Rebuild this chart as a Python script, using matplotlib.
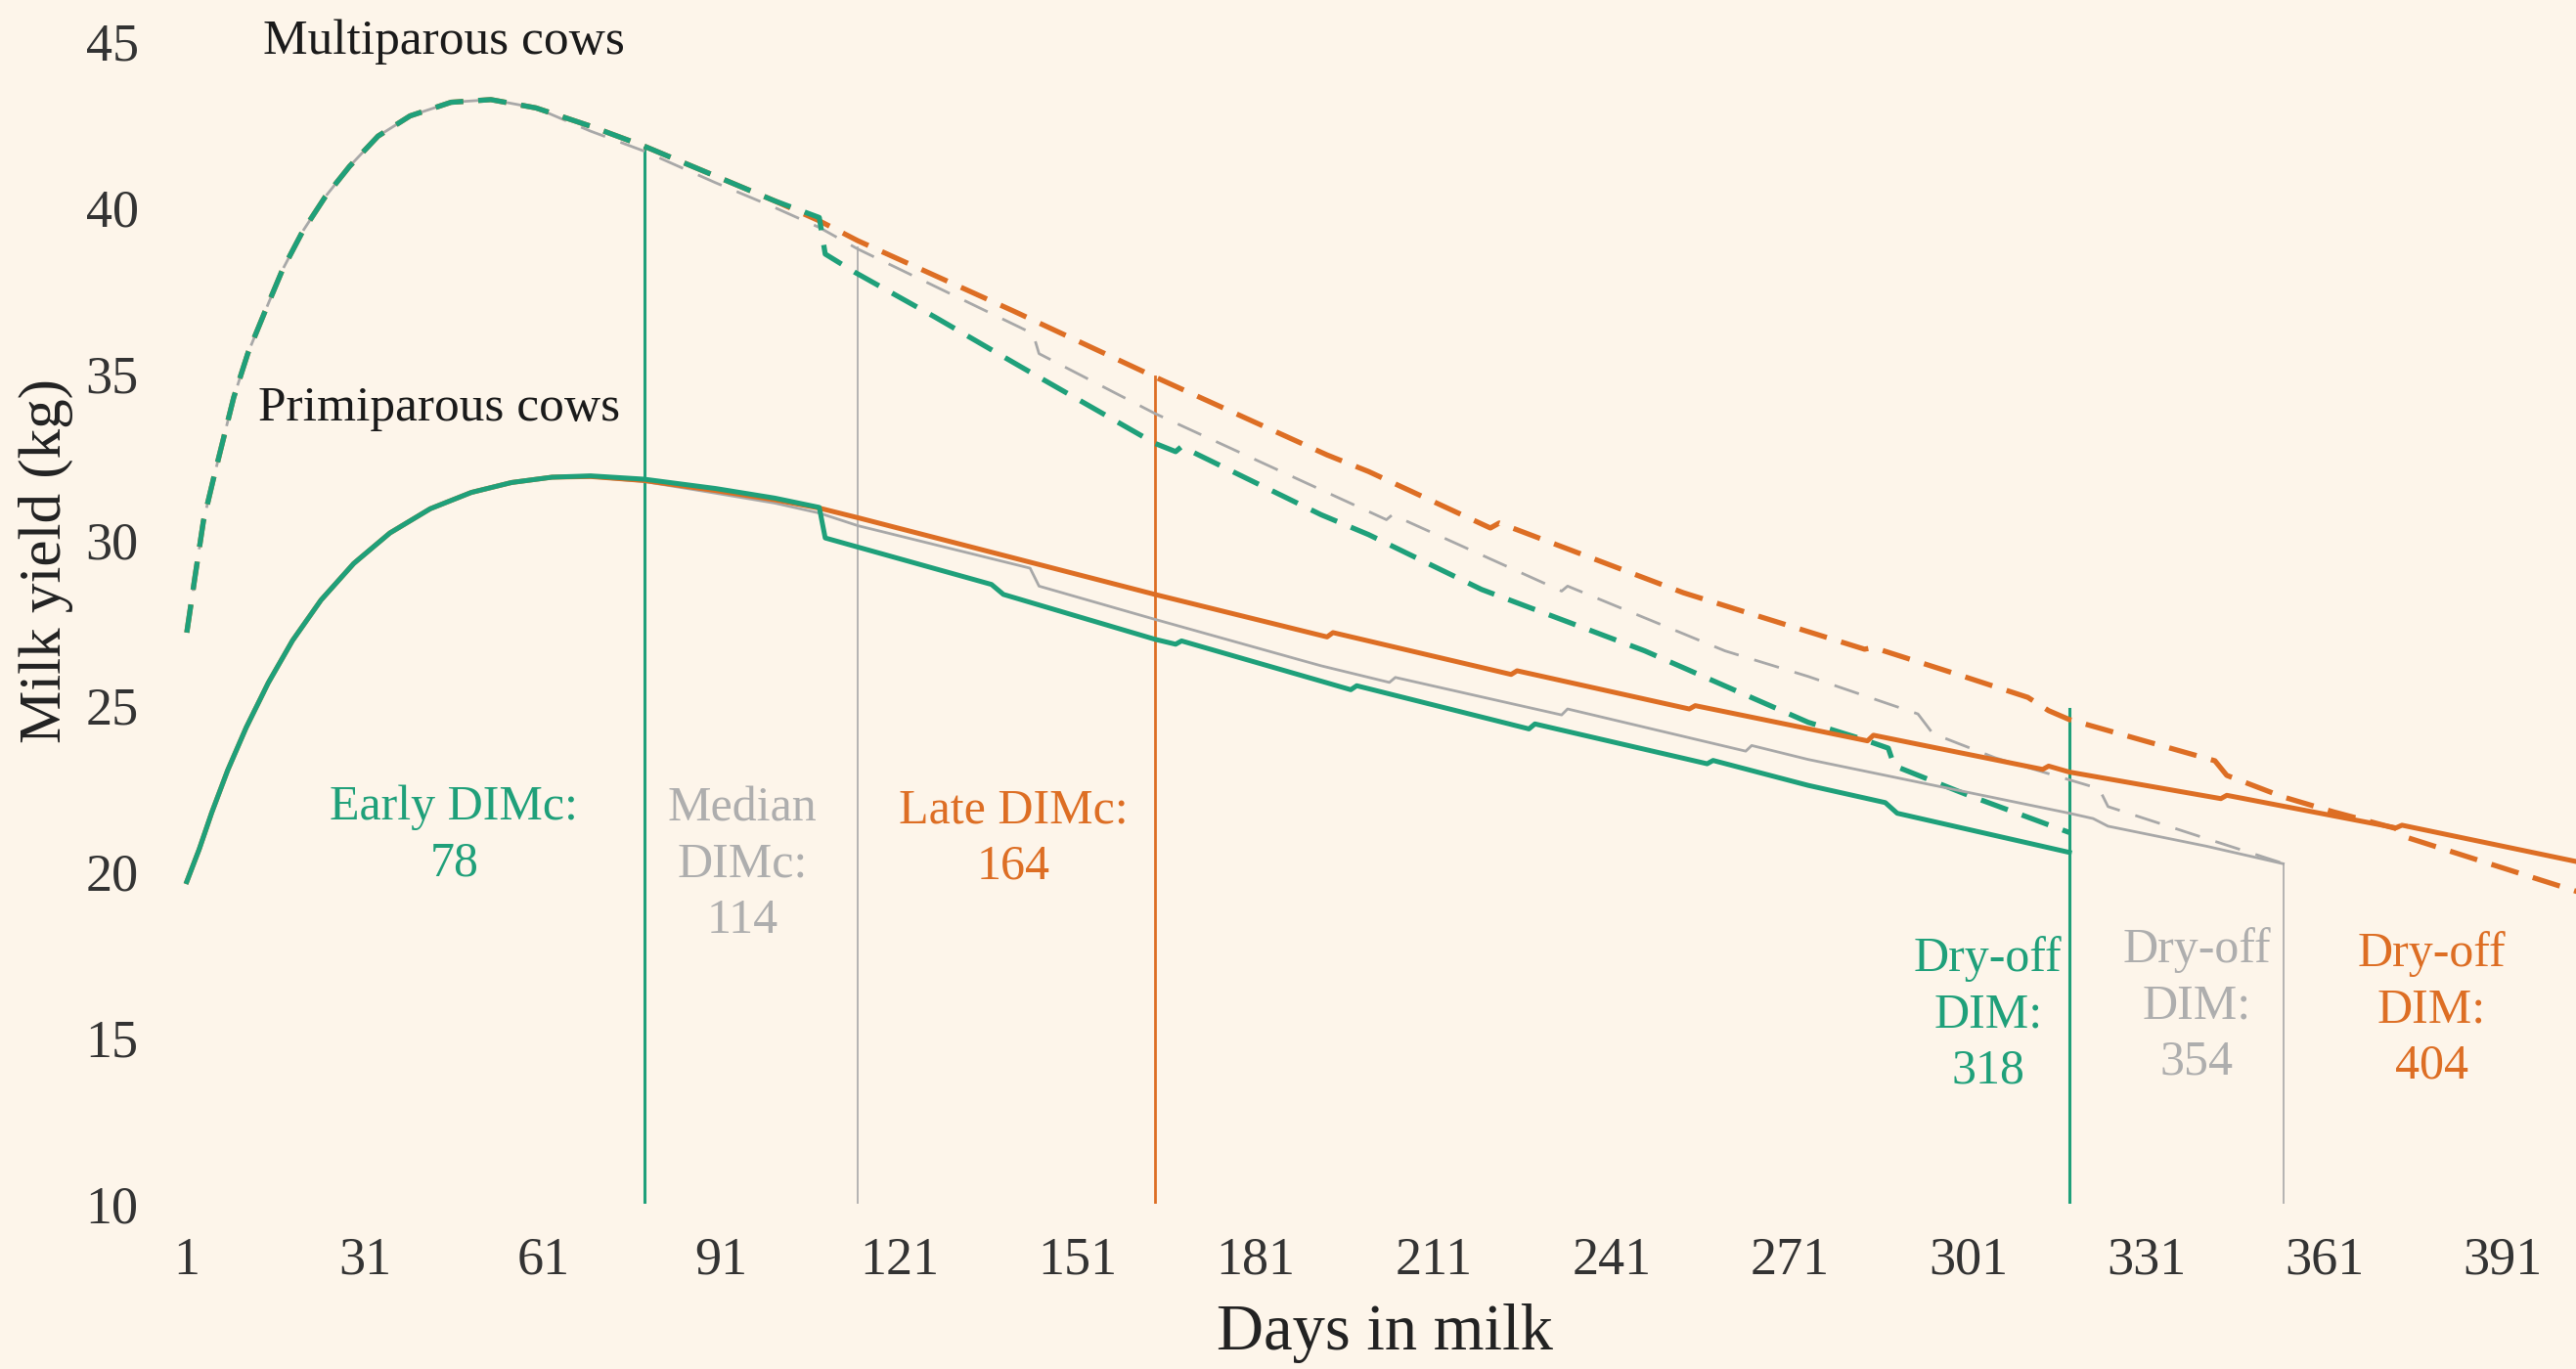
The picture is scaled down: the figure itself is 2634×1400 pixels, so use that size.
# lactation curves for early / median / late DIMc and dry-off

import matplotlib
matplotlib.use('Agg')
import matplotlib.pyplot as plt

# shared rising part of the curves (days in milk, kg)
multi_rise_day = [1, 2.4, 3.8, 5.5, 7.2, 8.9, 11.3, 14.1, 17.1, 20.5, 24.3, 28.4, 33.2, 38.6, 45.5, 52.2, 59.8]
multi_rise_kg = [27.2, 28.9, 30.56, 31.84, 33.06, 34.28, 35.62, 36.84, 38.12, 39.28, 40.32, 41.24, 42.15, 42.76,
                 43.17, 43.25, 43.0]

primi_rise_day = [1, 3.1, 5.2, 7.9, 11, 14.7, 18.8, 23.6, 29.1, 35.2, 42, 48.9, 55.7, 62.5]
primi_rise_kg = [19.7, 20.68, 21.78, 23.06, 24.34, 25.68, 26.96, 28.18, 29.28, 30.2, 30.93, 31.42, 31.72, 31.88]

# multiparous cows (dashed)
multi_early_day = [69, 78, 90, 100, 107.5, 108.5, 113.5, 127, 141, 164, 167.5, 168.5, 192, 200,
                   219, 246.5, 274, 283.5, 287.5, 288.5, 301, 318]
multi_early_kg = [42.45, 41.85, 40.95, 40.2, 39.7, 38.6, 38.05, 36.7, 35.25, 32.9, 32.65, 32.8, 30.75, 30.15,
                  28.5, 26.65, 24.5, 23.97, 23.72, 23.19, 22.3, 21.18]

multi_median_day = [69, 78, 90, 100, 107.5, 114, 143.5, 144.5, 164, 192, 203, 204, 232.5, 233.5,
                    260, 274, 292.5, 295, 305.5, 323, 324.5, 341, 354]
multi_median_kg = [42.3, 41.7, 40.75, 40.0, 39.4, 38.75, 36.2, 35.6, 33.8, 31.5, 30.6, 30.75, 28.45, 28.6,
                   26.65, 25.88, 24.75, 24.16, 23.43, 22.5, 21.96, 21.0, 20.25]

multi_late_day = [69, 78, 90, 100, 107.5, 114, 140, 164, 193, 200, 220.5, 222, 253, 283.5, 285, 299,
                  311, 314.5, 318, 342.5, 344.5, 354, 362.5, 373, 374.5, 403.5]
multi_late_kg = [42.45, 41.85, 40.95, 40.2, 39.6, 39.0, 36.9, 34.9, 32.55, 32.05, 30.35, 30.5, 28.4, 26.7, 26.75, 25.95,
                 25.25, 24.85, 24.58, 23.34, 22.9, 22.25, 21.8, 21.3, 21.05, 19.4]

# primiparous cows (solid)
primi_early_day = [69, 78, 90, 100, 107.5, 108.5, 136.5, 138.5, 164, 167.5, 168.5, 197, 198, 227, 228,
                   257, 258, 274, 287, 289, 318]
primi_early_kg = [31.92, 31.82, 31.54, 31.25, 30.97, 30.05, 28.65, 28.35, 27.0, 26.85, 26.95, 25.48, 25.6, 24.3, 24.45,
                  23.25, 23.35, 22.6, 22.08, 21.76, 20.58]

primi_median_day = [69, 78, 90, 100, 107.5, 114, 143, 144.5, 164, 192, 203.5, 204.5, 232.5, 233.5,
                    263.5, 264.5, 274, 318, 322, 324.5, 341, 354]
primi_median_kg = [31.88, 31.75, 31.4, 31.1, 30.8, 30.42, 29.14, 28.6, 27.6, 26.2, 25.7, 25.85, 24.72, 24.9,
                   23.63, 23.8, 23.38, 21.76, 21.6, 21.37, 20.77, 20.24]

primi_late_day = [69, 78, 90, 100, 107.5, 114, 164, 193, 194, 224, 225, 254, 255, 284, 285, 313.5, 314.5,
                  318, 343.5, 344.5, 373, 374, 403.5]
primi_late_kg = [31.9, 31.78, 31.48, 31.2, 30.95, 30.66, 28.35, 27.07, 27.2, 25.94, 26.05, 24.9, 25.0, 23.94, 24.11,
                 23.08, 23.18, 23.0, 22.2, 22.3, 21.32, 21.4, 20.3]

# DIMc and dry-off days, with the top of each marker line
dimc_day = [78, 114, 164]
dimc_top = [41.8, 38.8, 34.9]
dimc_name = ['Early DIMc:', 'Median\nDIMc:', 'Late DIMc:']
dryoff_day = [318, 354, 404]
dryoff_top = [24.9, 20.25, 19.4]

xticks = list(range(1, 392, 30))
yticks = [10, 15, 20, 25, 30, 35, 40, 45]

green = '#1FA07A'
gray = '#A8A8A8'
orange = '#DD6E24'
bg = '#FDF5EA'

plt.rcParams['font.family'] = ['Liberation Serif', 'DejaVu Serif']

fig = plt.figure(figsize=(13.17, 7.0), dpi=200, facecolor=bg)
ax = fig.add_axes([150 / 2634, 0.1207, 1 - 150 / 2634, 0.8793])
ax.set_facecolor(bg)

# marker lines
for d, t, c, w in zip(dimc_day, dimc_top, [green, gray, orange], [1.1, 0.6, 1.0]):
    ax.plot([d, d], [10, t], color=c, lw=w, zorder=1)
for d, t, c, w in zip(dryoff_day, dryoff_top, [green, gray, orange], [1.1, 0.6, 1.0]):
    ax.plot([d, d], [10, t], color=c, lw=w, zorder=1)

# curves: gray first, then orange, green on top
curves = [
    (multi_median_day, multi_median_kg, multi_rise_day, multi_rise_kg, gray, 1.0, (9.5, 6)),
    (multi_late_day, multi_late_kg, multi_rise_day, multi_rise_kg, orange, 1.9, (5.5, 2.9)),
    (multi_early_day, multi_early_kg, multi_rise_day, multi_rise_kg, green, 1.9, (5.5, 2.9)),
    (primi_median_day, primi_median_kg, primi_rise_day, primi_rise_kg, gray, 1.0, None),
    (primi_late_day, primi_late_kg, primi_rise_day, primi_rise_kg, orange, 1.8, None),
    (primi_early_day, primi_early_kg, primi_rise_day, primi_rise_kg, green, 1.8, None),
]
for days, kg, rday, rkg, c, w, dash in curves:
    line, = ax.plot(rday + days, rkg + kg, color=c, lw=w, zorder=2, solid_joinstyle='round')
    if dash is not None:
        line.set_dashes(dash)

# group labels
ax.text(13.8, 45.0, 'Multiparous cows', fontsize=18.5, color='#1a1a1a', ha='left', va='center')
ax.text(13.0, 33.95, 'Primiparous cows', fontsize=18.5, color='#1a1a1a', ha='left', va='center')

# DIMc / dry-off labels
dimc_txt_pos = [(46, 21.08), (94.5, 20.2), (140.2, 21.0)]
dry_txt_pos = [(304.3, 15.68), (339.4, 15.95), (379, 15.83)]
for (x, y), name, d, c in zip(dimc_txt_pos, dimc_name, dimc_day, [green, '#AEAEAE', orange]):
    ax.text(x, y, name + '\n' + str(d), fontsize=18, color=c, ha='center', va='center',
            multialignment='center', linespacing=1.3)
for (x, y), d, c in zip(dry_txt_pos, dryoff_day, [green, '#AEAEAE', orange]):
    ax.text(x, y, 'Dry-off\nDIM:\n' + str(d), fontsize=18, color=c, ha='center', va='center',
            multialignment='center', linespacing=1.3)

ax.set_xlim(-5.75, 403.3)
ax.set_ylim(10, 46.25)
ax.set_xticks(xticks)
ax.set_yticks(yticks)
ax.tick_params(axis='both', length=0, labelsize=19.5, labelcolor='#333333')
ax.tick_params(axis='x', pad=12)
ax.tick_params(axis='y', pad=3)
for s in ax.spines.values():
    s.set_visible(False)

ax.set_xlabel('Days in milk', fontsize=24, color='#222222')
ax.xaxis.set_label_coords(0.5097, -0.108)
ax.xaxis.label.set_va('center')
ax.set_ylabel('Milk yield (kg)', fontsize=22, color='#222222')
ax.yaxis.set_label_coords(-0.0415, 0.5337)
ax.yaxis.label.set_va('center')

fig.savefig('out.png', dpi=200, facecolor=bg)
